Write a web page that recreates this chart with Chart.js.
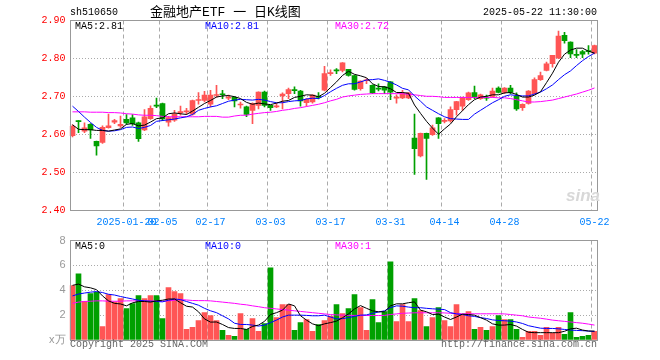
<!DOCTYPE html>
<html>
<head>
<meta charset="utf-8">
<title>金融地产ETF 日K线图</title>
<script src="https://cdn.jsdelivr.net/npm/chart.js@4.4.1/dist/chart.umd.min.js"></script>
<style>
  body { margin: 0; width: 660px; height: 360px; background: #fff; position: relative; overflow: hidden; }
  canvas { position: absolute; left: 0; }
  .txt { position: absolute; white-space: nowrap; font: 10px/12px "Liberation Mono", "DejaVu Sans Mono", monospace; color: #000; }
</style>
</head>
<body>
<canvas id="kline" width="660" height="230" style="top:0"></canvas>
<canvas id="vol" width="660" height="130" style="top:230px"></canvas>

<div class="txt" style="left:70px;top:7px">sh510650</div>
<div class="txt" style="left:150px;top:5px;font-size:13px;line-height:15px;font-family:'Liberation Mono','Noto Sans CJK SC',monospace">金融地产ETF 一 日K线图</div>
<div class="txt" style="right:63px;top:7px">2025-05-22 11:30:00</div>
<div class="txt" style="left:75px;top:21px">MA5:2.81</div>
<div class="txt" style="left:205px;top:21px;color:#00f">MA10:2.81</div>
<div class="txt" style="left:335px;top:21px;color:#f0f">MA30:2.72</div>
<div class="txt" style="left:75px;top:241px">MA5:0</div>
<div class="txt" style="left:205px;top:241px;color:#00f">MA10:0</div>
<div class="txt" style="left:335px;top:241px;color:#f0f">MA30:1</div>
<div class="txt" style="left:566px;top:187px;font:italic bold 17px/18px 'Liberation Sans',sans-serif;color:#d8d8d8">sina</div>
<div class="txt" style="left:70px;top:339px;color:#666">Copyright 2025 SINA.COM</div>
<div class="txt" style="right:63px;top:339px;color:#666">http://finance.sina.com.cn</div>

<script>
// trading days shown (88)
const dates = [
  "2025-01-07","2025-01-08","2025-01-09","2025-01-10","2025-01-13","2025-01-14","2025-01-15","2025-01-16","2025-01-17","2025-01-20","2025-01-21","2025-01-22","2025-01-23","2025-01-24","2025-01-27",
  "2025-02-05","2025-02-06","2025-02-07","2025-02-10","2025-02-11","2025-02-12","2025-02-13","2025-02-14","2025-02-17","2025-02-18","2025-02-19","2025-02-20","2025-02-21","2025-02-24","2025-02-25","2025-02-26","2025-02-27","2025-02-28",
  "2025-03-03","2025-03-04","2025-03-05","2025-03-06","2025-03-07","2025-03-10","2025-03-11","2025-03-12","2025-03-13","2025-03-14","2025-03-17","2025-03-18","2025-03-19","2025-03-20","2025-03-21","2025-03-24","2025-03-25","2025-03-26","2025-03-27","2025-03-28","2025-03-31",
  "2025-04-01","2025-04-02","2025-04-03","2025-04-07","2025-04-08","2025-04-09","2025-04-10","2025-04-11","2025-04-14","2025-04-15","2025-04-16","2025-04-17","2025-04-18","2025-04-21","2025-04-22","2025-04-23","2025-04-24","2025-04-25","2025-04-28","2025-04-29","2025-04-30",
  "2025-05-06","2025-05-07","2025-05-08","2025-05-09","2025-05-12","2025-05-13","2025-05-14","2025-05-15","2025-05-16","2025-05-19","2025-05-20","2025-05-21","2025-05-22"
];
const tickDates = ["2025-01-20","2025-02-05","2025-02-17","2025-03-03","2025-03-17","2025-03-31","2025-04-14","2025-04-28","2025-05-22"];
const tickText  = ["2025-01-20","02-05","02-17","03-03","03-17","03-31","04-14","04-28","05-22"];
const priceTicks = [2.40, 2.50, 2.60, 2.70, 2.80, 2.90];
const volTicks = [0, 2, 4, 6, 8];

const open = [
  2.596,2.635,2.608,2.626,2.581,2.578,2.617,2.632,2.622,2.639,2.643,2.630,2.611,2.641,2.676,
  2.681,2.632,2.637,2.657,2.659,2.653,2.689,2.689,2.679,2.702,2.706,2.695,2.697,2.677,2.672,
  2.663,2.676,2.711,2.676,2.672,2.701,2.707,2.717,2.714,2.683,2.685,2.699,2.716,2.760,2.769,
  2.768,2.771,2.755,2.720,2.741,2.729,2.721,2.725,2.738,2.695,2.696,2.696,2.590,2.543,2.602,
  2.599,2.643,2.634,2.635,2.665,2.674,2.691,2.710,2.694,2.697,2.700,2.722,2.710,2.722,2.700,
  2.670,2.681,2.707,2.744,2.768,2.786,2.801,2.861,2.843,2.809,2.818,2.819,2.814
];
const high = [
  2.625,2.636,2.630,2.628,2.582,2.622,2.653,2.639,2.648,2.652,2.652,2.632,2.665,2.675,2.695,
  2.682,2.647,2.663,2.674,2.668,2.690,2.710,2.713,2.716,2.729,2.716,2.703,2.699,2.685,2.674,
  2.683,2.712,2.714,2.677,2.681,2.709,2.722,2.725,2.716,2.694,2.704,2.710,2.779,2.770,2.773,
  2.789,2.771,2.756,2.741,2.747,2.730,2.733,2.726,2.739,2.704,2.716,2.710,2.653,2.603,2.603,
  2.624,2.644,2.641,2.672,2.687,2.698,2.711,2.727,2.706,2.703,2.722,2.725,2.723,2.729,2.709,
  2.680,2.715,2.749,2.764,2.790,2.808,2.872,2.869,2.844,2.823,2.821,2.834,2.835
];
const low = [
  2.593,2.604,2.604,2.589,2.545,2.576,2.616,2.628,2.618,2.626,2.623,2.581,2.609,2.639,2.670,
  2.636,2.621,2.634,2.650,2.652,2.650,2.679,2.685,2.672,2.698,2.694,2.691,2.672,2.669,2.646,
  2.628,2.667,2.672,2.663,2.670,2.667,2.694,2.707,2.674,2.674,2.682,2.693,2.714,2.755,2.760,
  2.764,2.753,2.716,2.716,2.733,2.707,2.714,2.707,2.691,2.682,2.694,2.694,2.494,2.540,2.481,
  2.597,2.589,2.630,2.632,2.650,2.663,2.689,2.694,2.692,2.689,2.698,2.709,2.707,2.707,2.663,
  2.663,2.679,2.705,2.742,2.767,2.777,2.799,2.840,2.802,2.802,2.802,2.811,2.812
];
const close = [
  2.621,2.633,2.617,2.611,2.569,2.618,2.622,2.636,2.626,2.630,2.628,2.588,2.646,2.668,2.674,
  2.640,2.644,2.653,2.660,2.661,2.689,2.691,2.703,2.703,2.704,2.704,2.697,2.688,2.679,2.652,
  2.681,2.711,2.676,2.670,2.674,2.706,2.718,2.715,2.688,2.692,2.703,2.697,2.760,2.762,2.767,
  2.788,2.755,2.718,2.740,2.743,2.709,2.719,2.716,2.711,2.696,2.707,2.709,2.562,2.602,2.589,
  2.617,2.628,2.636,2.665,2.686,2.696,2.709,2.697,2.704,2.695,2.714,2.710,2.722,2.710,2.667,
  2.679,2.714,2.744,2.755,2.786,2.808,2.859,2.847,2.812,2.808,2.811,2.818,2.834
];
const ma5 = [
  2.625,2.613,2.612,2.612,2.610,2.610,2.608,2.611,2.614,2.626,2.628,2.622,2.624,2.632,2.641,
  2.643,2.654,2.656,2.654,2.652,2.661,2.671,2.681,2.689,2.698,2.701,2.702,2.699,2.694,2.684,
  2.679,2.682,2.680,2.678,2.682,2.687,2.689,2.697,2.700,2.704,2.703,2.699,2.708,2.723,2.738,
  2.755,2.766,2.758,2.754,2.749,2.733,2.726,2.725,2.720,2.710,2.710,2.708,2.677,2.655,2.634,
  2.616,2.600,2.614,2.627,2.646,2.662,2.678,2.691,2.698,2.700,2.704,2.704,2.709,2.710,2.705,
  2.698,2.698,2.703,2.712,2.736,2.761,2.790,2.811,2.822,2.827,2.827,2.819,2.814
];
const ma10 = [
  2.674,2.660,2.645,2.631,2.618,2.610,2.608,2.609,2.612,2.618,2.619,2.615,2.618,2.623,2.634,
  2.636,2.638,2.640,2.643,2.646,2.652,2.663,2.668,2.672,2.675,2.681,2.687,2.690,2.692,2.691,
  2.690,2.692,2.690,2.686,2.683,2.683,2.686,2.688,2.689,2.693,2.695,2.694,2.702,2.712,2.721,
  2.729,2.733,2.733,2.738,2.743,2.744,2.746,2.742,2.737,2.730,2.721,2.717,2.701,2.687,2.672,
  2.663,2.654,2.646,2.641,2.640,2.639,2.639,2.653,2.663,2.673,2.683,2.691,2.700,2.704,2.702,
  2.701,2.701,2.706,2.711,2.720,2.730,2.744,2.757,2.767,2.781,2.794,2.805,2.814
];
const ma30 = [
  2.659,2.659,2.659,2.658,2.658,2.658,2.657,2.657,2.656,2.654,2.653,2.651,2.650,2.650,2.649,
  2.647,2.646,2.646,2.646,2.646,2.646,2.646,2.647,2.647,2.647,2.645,2.645,2.648,2.650,2.650,
  2.653,2.655,2.657,2.658,2.660,2.663,2.665,2.668,2.670,2.673,2.676,2.679,2.683,2.688,2.692,
  2.698,2.701,2.703,2.705,2.706,2.707,2.707,2.707,2.707,2.707,2.707,2.705,2.704,2.702,2.700,
  2.700,2.699,2.697,2.697,2.697,2.697,2.697,2.697,2.697,2.697,2.697,2.696,2.696,2.694,2.691,
  2.688,2.685,2.685,2.686,2.688,2.690,2.694,2.698,2.702,2.706,2.711,2.716,2.722
];
const volume = [
  4.37,5.33,3.12,3.73,3.84,1.09,3.65,3.07,3.33,2.53,2.93,3.57,3.33,3.57,3.57,
  1.73,4.21,3.89,3.73,0.85,1.01,1.57,2.21,1.97,1.57,0.77,0.37,0.29,2.13,0.85,
  1.73,0.69,1.33,5.81,1.81,2.85,2.85,0.77,1.41,1.65,0.69,1.25,1.57,1.92,2.85,
  2.13,2.53,3.65,2.61,0.77,3.25,1.41,2.29,6.29,1.49,2.85,1.49,3.33,2.37,1.09,
  1.81,2.61,1.57,1.09,2.85,2.05,2.29,0.85,1.01,0.77,1.09,1.97,1.65,1.65,0.85,
  0.21,0.69,0.69,0.37,1.01,0.53,1.01,0.45,2.21,0.21,0.29,0.37,0.69
];
const volMa5 = [
  4.40,4.50,4.28,4.20,4.05,3.55,3.15,2.95,2.90,2.75,2.99,3.10,3.10,3.05,3.15,
  3.20,3.30,3.30,3.00,2.72,2.65,2.27,1.70,1.44,1.45,1.25,1.00,0.93,0.93,0.85,
  1.09,1.20,1.50,2.05,2.20,2.40,2.90,2.75,1.95,1.60,1.30,1.15,1.30,1.40,1.52,
  1.79,2.10,2.50,2.77,2.55,2.35,2.27,2.27,2.75,2.91,2.91,3.00,3.07,2.40,2.27,
  2.05,2.08,1.85,1.65,1.85,2.08,2.05,2.00,1.80,1.60,1.30,1.20,1.20,1.25,1.12,
  0.85,0.62,0.59,0.59,0.59,0.59,0.59,0.70,0.90,0.95,0.80,0.72,0.72
];
const volMa10 = [
  3.55,3.70,3.78,3.85,3.90,3.82,3.68,3.62,3.50,3.40,3.30,3.20,3.15,3.12,3.10,
  3.07,3.20,3.30,3.25,3.10,2.95,2.80,2.55,2.35,2.20,1.95,1.70,1.35,1.25,1.25,
  1.20,1.12,1.20,1.40,1.60,1.85,2.00,2.00,2.00,1.98,1.95,1.95,2.00,1.85,1.70,
  1.72,1.80,1.90,2.00,2.02,2.15,2.25,2.35,2.60,2.75,2.72,2.65,2.60,2.60,2.55,
  2.51,2.48,2.45,2.20,2.10,2.05,1.95,1.90,1.80,1.73,1.62,1.57,1.55,1.52,1.45,
  1.33,1.15,1.05,0.95,0.93,0.93,0.90,0.85,0.80,0.77,0.75,0.72,0.68
];
const volMa30 = [
  2.95,3.05,3.10,3.12,3.15,3.15,3.12,3.12,3.12,3.15,3.15,3.15,3.15,3.14,3.13,
  3.12,3.15,3.20,3.25,3.22,3.18,3.17,3.17,3.15,3.10,3.05,3.00,2.95,2.88,2.83,
  2.75,2.68,2.60,2.55,2.50,2.45,2.40,2.35,2.30,2.25,2.20,2.15,2.10,2.05,2.02,
  2.00,1.98,1.98,1.98,1.97,1.97,1.97,1.98,2.05,2.10,2.15,2.17,2.19,2.19,2.19,
  2.19,2.19,2.18,2.15,2.12,2.11,2.11,2.11,2.11,2.11,2.11,2.11,2.10,2.05,2.00,
  1.95,1.85,1.80,1.75,1.68,1.60,1.55,1.50,1.45,1.40,1.35,1.28,1.20
];

const MONO = '"Liberation Mono", "DejaVu Sans Mono", monospace';
const RED = '#ff5555';
const GREEN = '#00a000';
const GRID = '#aaaaaa';

const candleColor = close.map((c, i) => c >= open[i] ? RED : GREEN);

// gray box round the plot area
const frame = {
  id: 'frame',
  afterDraw(chart) {
    const { ctx, chartArea: a } = chart;
    const l = Math.round(a.left) + 0.5, r = Math.floor(a.right) + 0.5;
    const t = Math.floor(a.top) + 0.5, b = Math.floor(a.bottom) + 0.5;
    ctx.save();
    ctx.strokeStyle = '#999';
    ctx.lineWidth = 1;
    ctx.strokeRect(l, t, r - l, b - t);
    ctx.restore();
  }
};

function xScale(showLabels) {
  return {
    type: 'category',
    offset: true,
    grid: {
      offset: true,
      drawTicks: false,
      color: c => tickDates.includes(dates[c.index]) ? GRID : 'rgba(0,0,0,0)'
    },
    border: { display: false, dash: [4, 3] },
    ticks: {
      display: showLabels,
      autoSkip: false,
      maxRotation: 0,
      minRotation: 0,
      padding: 6,
      color: '#0080ff',
      font: { family: MONO, size: 10 },
      callback: (v, i) => {
        const k = tickDates.indexOf(dates[i]);
        return k < 0 ? '' : tickText[k];
      }
    },
    afterFit: s => { s.height = 20; }
  };
}

function maLine(data, color) {
  return { type: 'line', data, borderColor: color, borderWidth: 1, pointRadius: 0, tension: 0, order: 0 };
}

const base = {
  responsive: false,
  animation: false,
  devicePixelRatio: 1,
  events: [],
  plugins: { legend: { display: false }, tooltip: { enabled: false } }
};

new Chart(document.getElementById('kline'), {
  type: 'bar',
  data: {
    labels: dates,
    datasets: [
      maLine(ma5, '#000'),
      maLine(ma10, '#0000ff'),
      maLine(ma30, '#ff00ff'),
      {
        data: open.map((o, i) => [o, close[i]]),
        backgroundColor: candleColor,
        barThickness: 5, minBarLength: 1, grouped: false, order: 1
      },
      {
        data: low.map((l, i) => [l, high[i]]),
        backgroundColor: candleColor,
        barThickness: 1, grouped: false, order: 2
      }
    ]
  },
  options: {
    ...base,
    layout: { padding: { top: 20.5, right: 62.5, left: 0, bottom: 0 } },
    scales: {
      x: xScale(true),
      y: {
        min: 2.4, max: 2.9,
        afterFit: s => { s.width = 69.5; },
        afterBuildTicks: s => { s.ticks = priceTicks.map(v => ({ value: v })); },
        grid: { color: GRID, drawTicks: false },
        border: { display: false, dash: [1, 2] },
        ticks: { color: '#ff0000', padding: 4, font: { family: MONO, size: 10 }, callback: v => v.toFixed(2) }
      }
    }
  },
  plugins: [frame]
});

new Chart(document.getElementById('vol'), {
  type: 'bar',
  data: {
    labels: dates,
    datasets: [
      maLine(volMa5, '#000'),
      maLine(volMa10, '#0000ff'),
      maLine(volMa30, '#ff00ff'),
      { data: volume, backgroundColor: candleColor, barThickness: 5, grouped: false, order: 1 }
    ]
  },
  options: {
    ...base,
    layout: { padding: { top: 10.5, right: 62.5, left: 0, bottom: 0 } },
    scales: {
      x: xScale(false),
      y: {
        min: 0, max: 8,
        afterFit: s => { s.width = 69.5; },
        afterBuildTicks: s => { s.ticks = volTicks.map(v => ({ value: v })); },
        grid: { color: GRID, drawTicks: false },
        border: { display: false, dash: [1, 2] },
        ticks: {
          color: '#999', padding: 4,
          font: { family: '"Liberation Sans", Arial, sans-serif', size: 11 },
          callback: v => v === 0 ? 'x万' : String(v)
        }
      }
    }
  },
  plugins: [frame]
});
</script>
</body>
</html>
